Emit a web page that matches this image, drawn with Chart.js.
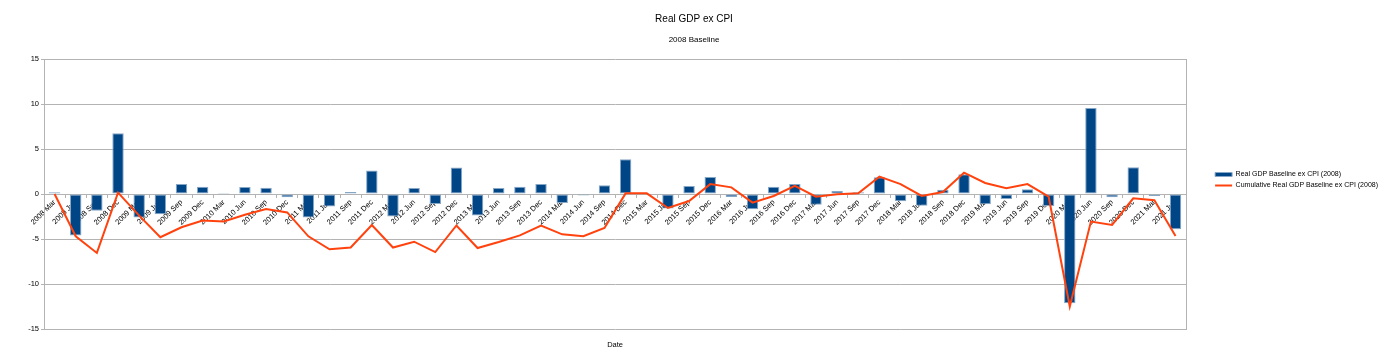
<!DOCTYPE html>
<html>
<head>
    <title>Real GDP ex CPI</title>
    <script src="https://cdn.jsdelivr.net/npm/chart.js"></script>
    <style>
        body { margin: 0; background: #fff; }
        #wrap { width: 1388px; height: 360px; }
    </style>
</head>
<body>
    <div id="wrap"><canvas id="gdpChart"></canvas></div>

    <script>
        // Quarters
        const quarters = [
            '2008 Mar', '2008 Jun', '2008 Sep', '2008 Dec',
            '2009 Mar', '2009 Jun', '2009 Sep', '2009 Dec',
            '2010 Mar', '2010 Jun', '2010 Sep', '2010 Dec',
            '2011 Mar', '2011 Jun', '2011 Sep', '2011 Dec',
            '2012 Mar', '2012 Jun', '2012 Sep', '2012 Dec',
            '2013 Mar', '2013 Jun', '2013 Sep', '2013 Dec',
            '2014 Mar', '2014 Jun', '2014 Sep', '2014 Dec',
            '2015 Mar', '2015 Jun', '2015 Sep', '2015 Dec',
            '2016 Mar', '2016 Jun', '2016 Sep', '2016 Dec',
            '2017 Mar', '2017 Jun', '2017 Sep', '2017 Dec',
            '2018 Mar', '2018 Jun', '2018 Sep', '2018 Dec',
            '2019 Mar', '2019 Jun', '2019 Sep', '2019 Dec',
            '2020 Mar', '2020 Jun', '2020 Sep', '2020 Dec',
            '2021 Mar', '2021 Jun'
        ];

        // Real GDP Baseline ex CPI (2008) - barras
        const realGdp = [
            0.2, -4.6, -1.85, 6.75,
            -2.6, -2.25, 1.1, 0.8,
            0.1, 0.78, 0.7, -0.37,
            -2.6, -1.4, 0.22, 2.6,
            -2.5, 0.67, -1.1, 2.95,
            -2.4, 0.67, 0.8, 1.1,
            -1.0, -0.18, 0.96, 3.85,
            0.0, -1.6, 0.9, 1.9,
            -0.33, -1.7, 0.8, 1.1,
            -1.2, 0.33, 0.2, 1.85,
            -0.8, -1.3, 0.48, 2.2,
            -1.15, -0.55, 0.52, -1.33,
            -12.15, 9.55, -0.37, 2.96,
            -0.22, -3.93
        ];

        // Cumulative Real GDP Baseline ex CPI (2008) - linha
        const cumulativeGdp = [
            0.0, -4.7, -6.55, 0.15,
            -2.4, -4.8, -3.7, -2.95,
            -3.05, -2.3, -1.67, -2.05,
            -4.7, -6.15, -5.95, -3.45,
            -5.95, -5.3, -6.45, -3.5,
            -6.0, -5.33, -4.6, -3.5,
            -4.48, -4.7, -3.78, 0.07,
            0.07, -1.55, -0.78, 1.1,
            0.74, -0.96, -0.22, 0.9,
            -0.3, -0.04, 0.07, 1.93,
            1.1, -0.22, 0.22, 2.37,
            1.22, 0.63, 1.1, -0.3,
            -12.5, -3.07, -3.44, -0.48,
            -0.7, -4.67
        ];

        const yTicks = [-15, -10, -5, 0, 5, 10, 15];

        const gridColor = '#b3b3b3';
        const fontFamily = '"Liberation Sans", Arial, sans-serif';

        const ctx = document.getElementById('gdpChart').getContext('2d');
        const gdpChart = new Chart(ctx, {
            data: {
                labels: quarters,
                datasets: [{
                    type: 'bar',
                    label: 'Real GDP Baseline ex CPI (2008)',
                    data: realGdp,
                    backgroundColor: '#004586',
                    borderColor: '#86a6c6',
                    borderWidth: 1,
                    borderSkipped: false,
                    barPercentage: 0.54,
                    categoryPercentage: 1,
                    pointStyle: 'rect',
                    order: 1,
                    xAxisID: 'x',
                    yAxisID: 'y'
                }, {
                    type: 'line',
                    label: 'Cumulative Real GDP Baseline ex CPI (2008)',
                    data: cumulativeGdp,
                    borderColor: '#ff420e',
                    backgroundColor: '#ff420e',
                    borderWidth: 2,
                    pointRadius: 0,
                    pointStyle: 'line',
                    tension: 0,
                    fill: false,
                    order: 0,
                    xAxisID: 'x',
                    yAxisID: 'y'
                }]
            },
            options: {
                responsive: true,
                maintainAspectRatio: false,
                animation: false,
                layout: { padding: 0 },
                plugins: {
                    title: {
                        display: true,
                        text: 'Real GDP ex CPI',
                        color: '#000',
                        font: { family: fontFamily, size: 10, weight: 'normal' },
                        padding: { top: 13, bottom: 7 }
                    },
                    subtitle: {
                        display: true,
                        text: '2008 Baseline',
                        color: '#000',
                        font: { family: fontFamily, size: 8 },
                        padding: { top: 3.2, bottom: 14.2 }
                    },
                    legend: {
                        position: 'right',
                        maxWidth: 178,
                        labels: {
                            usePointStyle: true,
                            pointStyleWidth: 17,
                            boxHeight: 4,
                            padding: 4,
                            color: '#000',
                            font: { family: fontFamily, size: 7 },
                            sort: (a, b) => a.datasetIndex - b.datasetIndex
                        }
                    },
                    tooltip: { enabled: false }
                },
                scales: {
                    x: {
                        type: 'category',
                        position: { y: 0 },
                        offset: true,
                        grid: {
                            display: true,
                            drawOnChartArea: false,
                            drawTicks: true,
                            tickLength: 3,
                            offset: true,
                            color: gridColor
                        },
                        border: { display: true, color: gridColor },
                        ticks: {
                            autoSkip: false,
                            minRotation: 45,
                            maxRotation: 45,
                            padding: 1,
                            color: '#000',
                            font: { family: fontFamily, size: 7.5 }
                        }
                    },
                    y: {
                        type: 'linear',
                        position: 'left',
                        min: yTicks[0],
                        max: yTicks[yTicks.length - 1],
                        afterBuildTicks: function (scale) {
                            scale.ticks = yTicks.map(v => ({ value: v }));
                        },
                        afterFit: function (scale) { scale.width = 44; },
                        grid: { color: gridColor, tickLength: 3 },
                        border: { display: true, color: gridColor },
                        ticks: {
                            padding: 2,
                            color: '#000',
                            font: { family: fontFamily, size: 7.5 }
                        }
                    },
                    yr: {
                        type: 'linear',
                        position: 'right',
                        afterFit: function (scale) { scale.width = 25; },
                        grid: { display: false },
                        border: { display: true, color: gridColor },
                        ticks: { display: false }
                    },
                    xd: {
                        type: 'linear',
                        position: 'bottom',
                        afterFit: function (scale) { scale.height = 31; },
                        grid: { display: false },
                        border: { display: false },
                        ticks: { display: false },
                        title: {
                            display: true,
                            text: 'Date',
                            color: '#000',
                            font: { family: fontFamily, size: 7.5 },
                            padding: { top: 0, bottom: 10.2 }
                        }
                    }
                }
            }
        });
    </script>
</body>
</html>
